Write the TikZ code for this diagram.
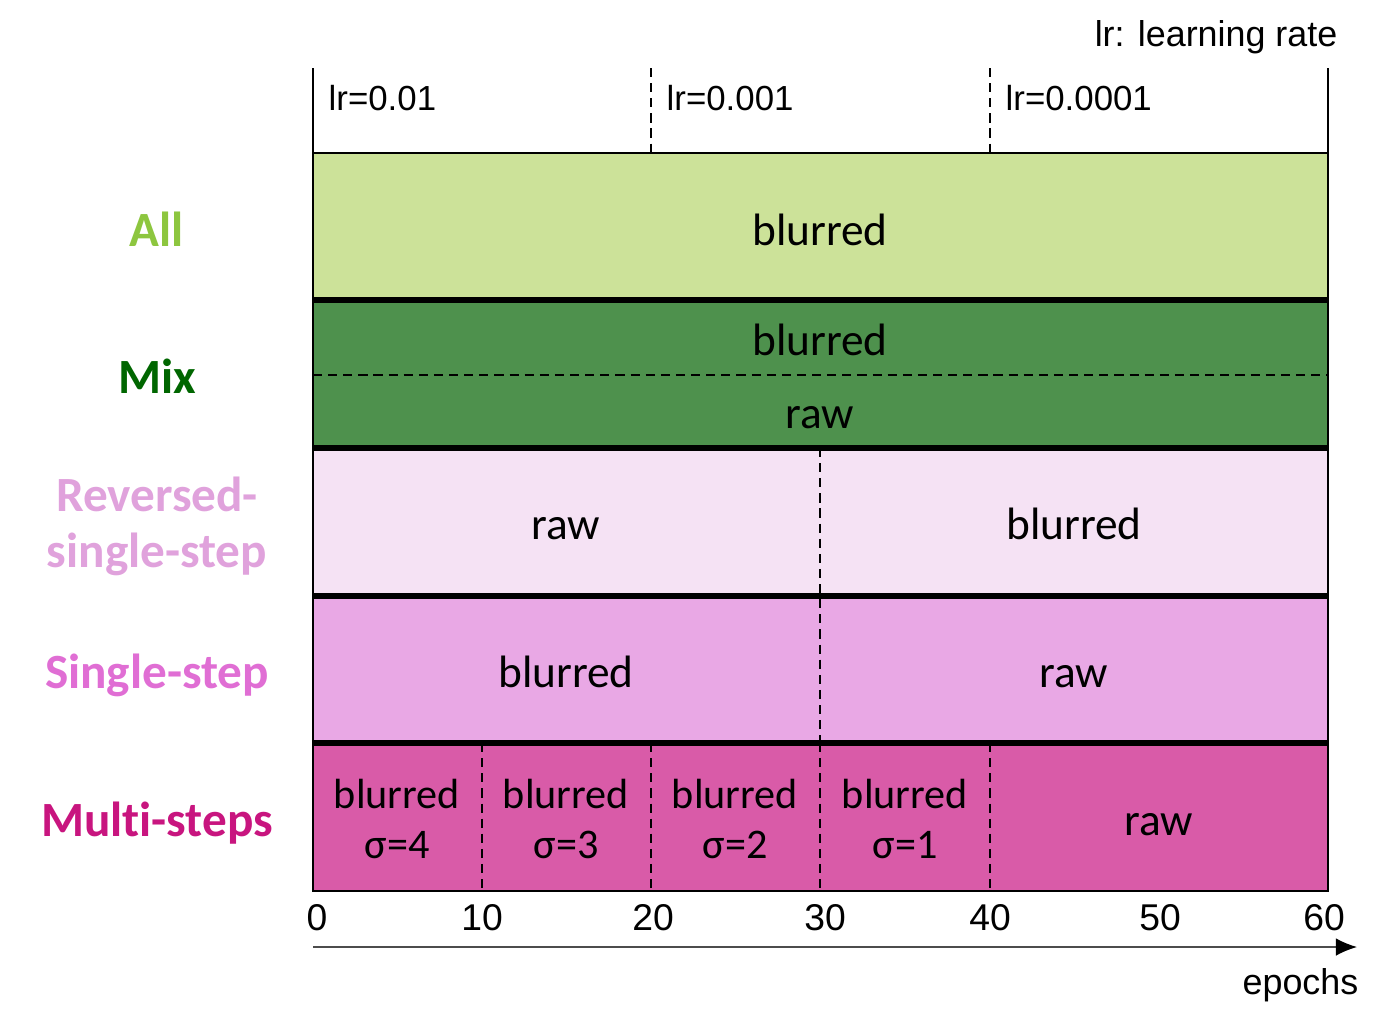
\documentclass[tikz,border=0pt]{standalone}
\usepackage{fontspec}
\setmainfont{Carlito}[Ligatures=NoCommon]
\newfontfamily\arialfont{Liberation Sans}
\usetikzlibrary{arrows.meta}

\definecolor{allfill}{RGB}{204,226,153}
\definecolor{alltext}{RGB}{141,198,63}
\definecolor{mixfill}{RGB}{78,145,77}
\definecolor{mixtext}{RGB}{0,102,0}
\definecolor{revfill}{RGB}{245,226,244}
\definecolor{revtext}{RGB}{224,162,220}
\definecolor{singlefill}{RGB}{233,168,229}
\definecolor{singletext}{RGB}{224,110,212}
\definecolor{multifill}{RGB}{217,91,168}
\definecolor{multitext}{RGB}{200,21,127}

\tikzset{
  cell/.style={font=\fontsize{12.9}{14.2}\selectfont, align=center, inner sep=0pt, anchor=base},
  smallcell/.style={cell, font=\fontsize{12}{14.2}\selectfont},
  rowname/.style={font=\bfseries\fontsize{14}{15.9}\selectfont, align=center, inner sep=0pt, anchor=base},
  plain/.style={font=\arialfont\fontsize{10.2}{12}\selectfont, inner sep=0pt},
  ratelabel/.style={plain, font=\arialfont\fontsize{9.9}{12}\selectfont, anchor=west},
  border/.style={line width=0.55pt},
  rowsep/.style={line width=1.45pt},
  divider/.style={line width=0.45pt, dash pattern=on 2.6pt off 1.7pt},
}

\begin{document}
\begin{tikzpicture}[x=0.01cm, y=-0.01cm]
    \useasboundingbox (0, 0) rectangle (1383, 1027);

    % rows
    \fill[allfill] (313, 153) rectangle (1328, 300);
    \fill[mixfill] (313, 300) rectangle (1328, 448);
    \fill[revfill] (313, 448) rectangle (1328, 596);
    \fill[singlefill] (313, 596) rectangle (1328, 743);
    \fill[multifill] (313, 743) rectangle (1328, 891);

    % dashed dividers
    \draw[divider] (651, 68) -- (651, 153);
    \draw[divider] (990, 68) -- (990, 153);
    \draw[divider] (313, 375) -- (1328, 375);
    \draw[divider] (820, 448) -- (820, 743);
    \foreach \x in {482, 651, 820, 990}
        \draw[divider] (\x, 743) -- (\x, 891);

    % frame
    \draw[border] (313, 68) -- (313, 891) -- (1328, 891) -- (1328, 68);
    \draw[border] (313, 153) -- (1328, 153);
    \foreach \y in {300, 448, 596, 743}
        \draw[rowsep] (313, \y) -- (1328, \y);

    % learning rates
    \node[plain, anchor=east] (legend) at (1338, 37) {lr: learning rate};
    \node[ratelabel] (lrA) at (328, 98) {lr=0.01};
    \node[ratelabel] (lrB) at (666, 98) {lr=0.001};
    \node[ratelabel] (lrC) at (1005, 98) {lr=0.0001};

    % row names (base = last line)
    \node[rowname, text=alltext] (all) at (157, 246) {All};
    \node[rowname, text=mixtext] (mix) at (157, 393) {Mix};
    \node[rowname, text=revtext] (rev) at (157, 567) {Reversed-\\single-step};
    \node[rowname, text=singletext] (single) at (157, 688) {Single-step};
    \node[rowname, text=multitext] (multi) at (157, 836) {Multi-steps};

    % cells
    \node[cell] (allA) at (820, 245) {blurred};
    \node[cell] (mixA) at (820, 355) {blurred};
    \node[cell] (mixB) at (820, 428) {raw};
    \node[cell] (revA) at (566, 539) {raw};
    \node[cell] (revB) at (1074, 539) {blurred};
    \node[cell] (singleA) at (566, 687) {blurred};
    \node[cell] (singleB) at (1074, 687) {raw};
    \foreach \x/\s [count=\i] in {397/4, 566/3, 735/2, 905/1}
        \node[smallcell] (multi\i) at (\x, 858) {blurred\\σ=\s};
    \node[cell] (multi5) at (1159, 835) {raw};

    % epoch axis
    \foreach \e/\x in {0/317, 10/482, 20/653, 30/825, 40/990, 50/1160, 60/1324}
        \node[plain, font=\arialfont\fontsize{10.6}{12}\selectfont] (tick\e) at (\x, 918) {\e};
    \coordinate (axisL) at (313, 947);
    \coordinate (axisR) at (1357, 947);
    \draw[line width=0.4pt, black!70, -{Latex[length=6pt, width=5pt, black]}] (axisL) -- (axisR);
    \node[plain, anchor=east] (epochs) at (1359, 985) {epochs};
\end{tikzpicture}
\end{document}
